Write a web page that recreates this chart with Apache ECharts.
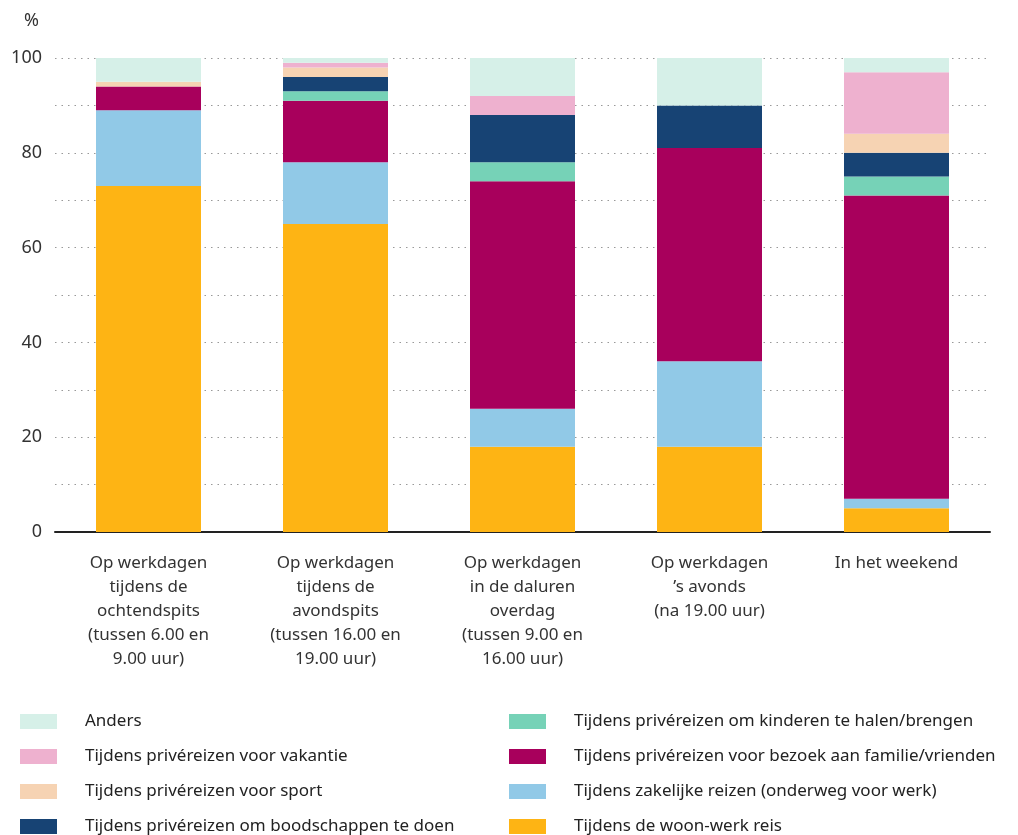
<!DOCTYPE html>
<html>
<head>
<meta charset="utf-8">
<script src="https://cdn.jsdelivr.net/npm/echarts@6/dist/echarts.min.js"></script>
<style>html,body{margin:0;padding:0;background:#fff;}#c{width:1018px;height:835px;}</style>
</head>
<body>
<div id="c"></div>
<script>
var categories = [
  'Op werkdagen\ntijdens de\nochtendspits\n(tussen 6.00 en\n9.00 uur)',
  'Op werkdagen\ntijdens de\navondspits\n(tussen 16.00 en\n19.00 uur)',
  'Op werkdagen\nin de daluren\noverdag\n(tussen 9.00 en\n16.00 uur)',
  'Op werkdagen\n\u2019s avonds\n(na 19.00 uur)',
  'In het weekend'
];
var woonWerk     = [73, 65, 18, 18, 5];
var zakelijk     = [16, 13, 8, 18, 2];
var familie      = [5, 13, 48, 45, 64];
var kinderen     = [0, 2, 4, 0, 4];
var boodschappen = [0, 3, 10, 9, 5];
var sport        = [1, 2, 0, 0, 4];
var vakantie     = [0, 1, 4, 0, 13];
var anders       = [5, 1, 8, 10, 3];
var yTicks = [0, 20, 40, 60, 80, 100];

var names = {
  anders: 'Anders',
  vakantie: 'Tijdens privéreizen voor vakantie',
  sport: 'Tijdens privéreizen voor sport',
  boodschappen: 'Tijdens privéreizen om boodschappen te doen',
  kinderen: 'Tijdens privéreizen om kinderen te halen/brengen',
  familie: 'Tijdens privéreizen voor bezoek aan familie/vrienden',
  zakelijk: 'Tijdens zakelijke reizen (onderweg voor werk)',
  woonWerk: 'Tijdens de woon-werk reis'
};
var colors = {
  anders: '#d6f0e8', vakantie: '#eeb1cf', sport: '#f6d3b3', boodschappen: '#174374',
  kinderen: '#76d2b7', familie: '#a8005c', zakelijk: '#91c9e7', woonWerk: '#feb414'
};
var dataMap = {woonWerk: woonWerk, zakelijk: zakelijk, familie: familie, kinderen: kinderen,
  boodschappen: boodschappen, sport: sport, vakantie: vakantie, anders: anders};
var order = ['woonWerk','zakelijk','familie','kinderen','boodschappen','sport','vakantie','anders'];

var font = 'Noto Sans';
var series = order.map(function(k){
  return {
    name: names[k], type: 'bar', stack: 'total', barWidth: 105,
    itemStyle: {color: colors[k]}, data: dataMap[k]
  };
});

var legendCommon = {
  orient: 'vertical', itemWidth: 37, itemHeight: 15, itemGap: 18, icon: 'rect',
  selectedMode: false, padding: 0, height: 130,
  textStyle: {fontFamily: font, fontSize: 17, color: '#222', padding: [0,0,0,23]}
};
var chart = echarts.init(document.getElementById('c'));
chart.setOption({
  animation: false,
  grid: {left: 55, right: 28, top: 58, bottom: 303},
  legend: [
    Object.assign({}, legendCommon, {left: 20, top: 713,
      data: [names.anders, names.vakantie, names.sport, names.boodschappen]}),
    Object.assign({}, legendCommon, {left: 509, top: 713,
      data: [names.kinderen, names.familie, names.zakelijk, names.woonWerk]})
  ],
  xAxis: {
    type: 'category', data: categories,
    axisLine: {lineStyle: {color: '#222', width: 2}},
    axisTick: {show: false},
    axisLabel: {fontFamily: font, fontSize: 17, color: '#333', lineHeight: 24, margin: 19, interval: 0}
  },
  yAxis: {
    type: 'value', min: 0, max: 100, interval: 10,
    name: '%', nameLocation: 'end', nameGap: 28,
    nameTextStyle: {fontFamily: font, fontSize: 18, color: '#333', align: 'right', padding: [0, 16, 0, 0]},
    axisLine: {show: false}, axisTick: {show: false},
    axisLabel: {fontFamily: font, fontSize: 18, color: '#333', margin: 13,
      formatter: function(v){ return yTicks.indexOf(v) >= 0 ? String(v) : ''; }},
    splitLine: {lineStyle: {color: '#999', type: [1.5, 5], width: 1}}
  },
  series: series
});
</script>
</body>
</html>
